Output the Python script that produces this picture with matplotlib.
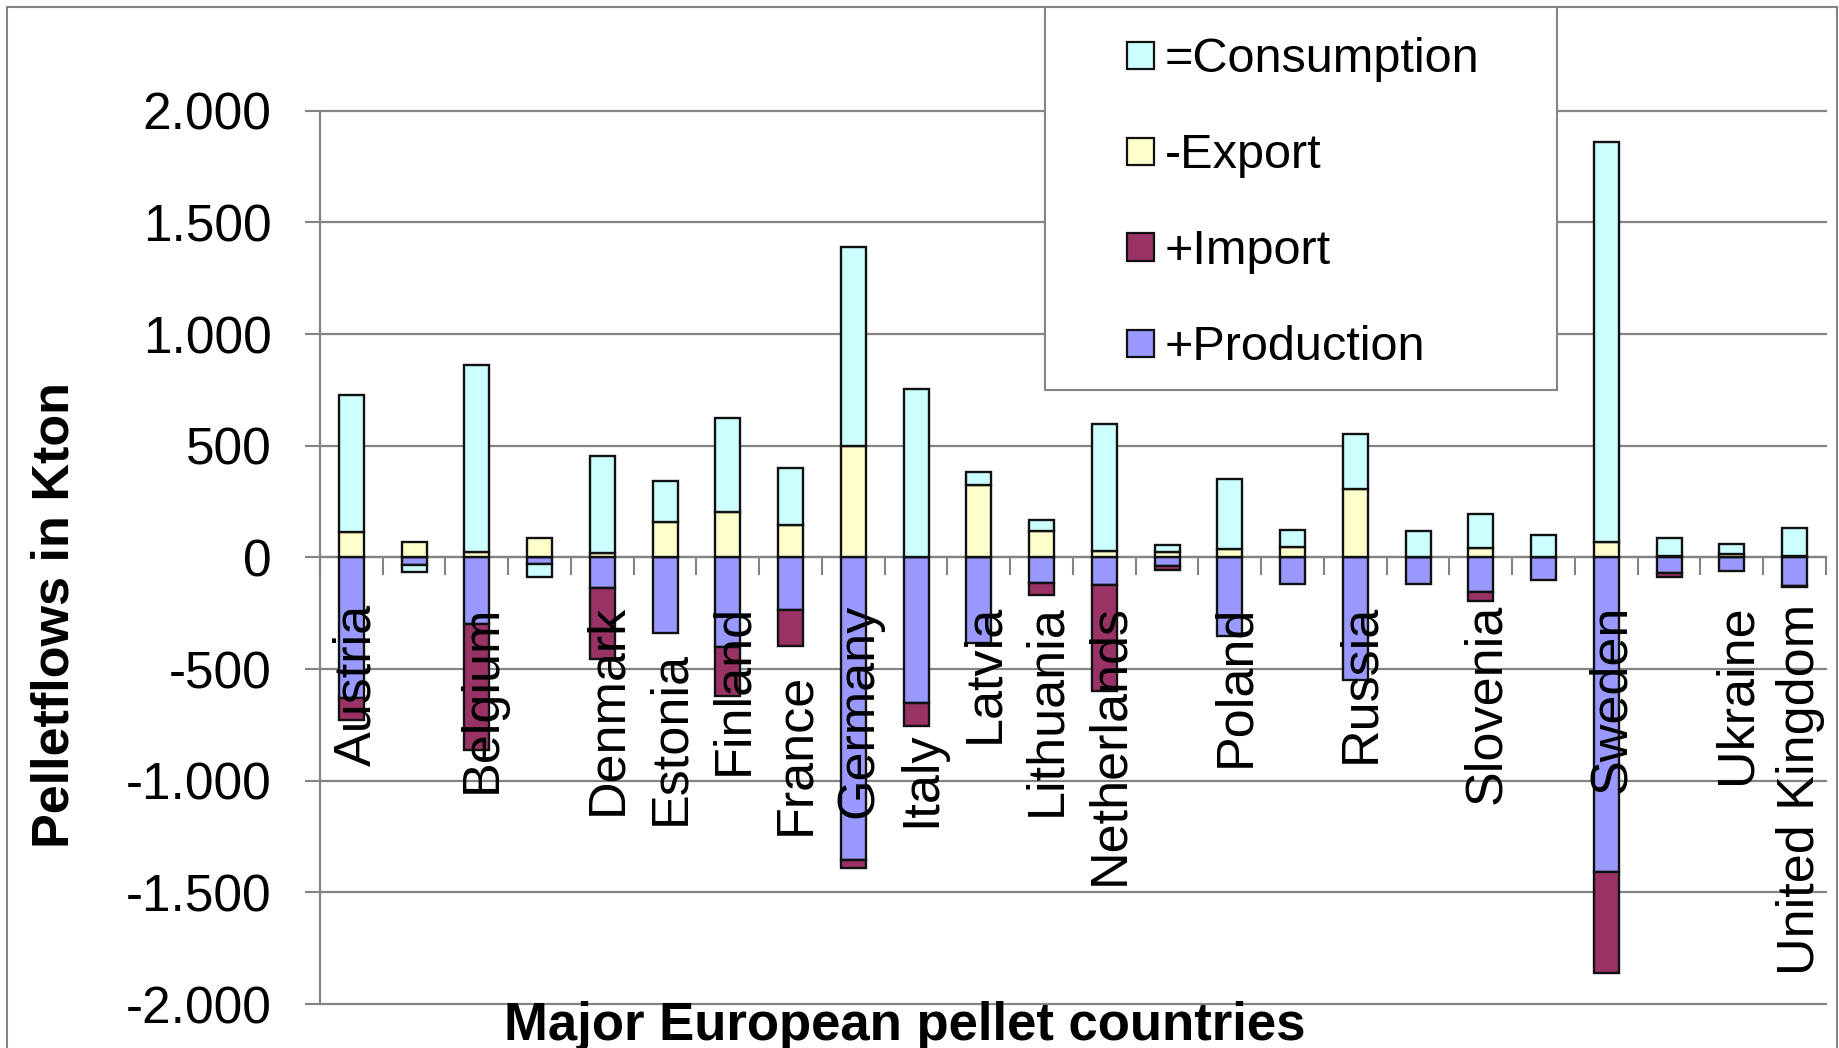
import numpy as np
import matplotlib
matplotlib.use("Agg")
import matplotlib.pyplot as plt
from matplotlib.patches import Rectangle
from matplotlib.ticker import FuncFormatter, FixedLocator

plt.rcParams['font.family'] = ['Liberation Sans', 'DejaVu Sans']

# data (Kton)
countries = ["Austria", "", "Belgium", "", "Denmark", "Estonia", "Finland", "France",
             "Germany", "Italy", "Latvia", "Lithuania", "Netherlands", "", "Poland", "",
             "Russia", "", "Slovenia", "", "Sweden", "", "Ukraine", "United Kingdom"]
production = [630, 36, 298, 28, 136, 340, 401, 237, 1357, 652, 382, 115,
              125, 38, 350, 121, 551, 119, 155, 102, 1407, 68, 62, 130]
imports = [98, 0, 564, 0, 317, 0, 222, 162, 35, 104, 0, 53,
           472, 17, 0, 0, 0, 0, 40, 0, 452, 19, 0, 3]
exports = [114, 67, 22, 87, 18, 158, 203, 144, 500, 0, 324, 116,
           30, 25, 37, 45, 308, 0, 40, 2, 70, 5, 15, 5]
consumption = [614, -31, 840, -59, 435, 182, 420, 255, 890, 756, 58, 52,
               567, 30, 313, 76, 243, 119, 155, 100, 1789, 82, 47, 128]

series_names = ["+Production", "+Import", "-Export", "=Consumption"]
series_colors = ["#9999FF", "#993366", "#FFFFCC", "#CCFFFF"]

W, H = 1840, 1048
GRAY = "#848484"

fig = plt.figure(figsize=(W / 100, H / 100), dpi=100)
ax = fig.add_axes([320 / W, 1 - 1004 / H, (1826 - 320) / W, (1004 - 110.7) / H])

x = np.arange(len(countries))
# production and import go down, export and consumption go up (Excel style stacking)
signed = [-np.array(production), -np.array(imports), np.array(exports), np.array(consumption)]
pos_base = np.zeros(len(x))
neg_base = np.zeros(len(x))
for vals, name, col in zip(signed, series_names, series_colors):
    bottom = np.where(vals >= 0, pos_base, neg_base)
    ax.bar(x, vals, width=0.4, bottom=bottom, color=col, edgecolor="#111111",
           linewidth=1.7, label=name, zorder=3)
    pos_base = pos_base + np.where(vals >= 0, vals, 0)
    neg_base = neg_base + np.where(vals < 0, vals, 0)

ax.set_xlim(-0.5, len(countries) - 0.5)
ax.set_ylim(-2000, 2000)

# category axis sits on the zero line, ticks between categories
ax.spines['bottom'].set_position(('data', 0))
ax.spines['bottom'].set_color(GRAY)
ax.spines['bottom'].set_linewidth(1.6)
ax.spines['left'].set_color(GRAY)
ax.spines['left'].set_linewidth(1.6)
ax.spines['top'].set_visible(False)
ax.spines['right'].set_visible(False)
ax.xaxis.set_major_locator(FixedLocator(np.arange(-0.5, len(countries), 1)))
ax.set_xticklabels([])
ax.tick_params(axis='x', direction='out', length=13, width=1.5, color=GRAY)

ax.set_yticks(np.arange(-2000, 2001, 500))
ax.yaxis.set_major_formatter(FuncFormatter(lambda v, p: "{:,}".format(int(v)).replace(",", ".")))
ax.tick_params(axis='y', direction='out', length=11, width=1.5, color=GRAY,
               labelsize=37, pad=24)
ax.yaxis.grid(True, color=GRAY, linewidth=1.6, zorder=0)
ax.set_axisbelow(True)
for gl in ax.get_ygridlines():
    gl.set_clip_on(False)

# rotated country names below the zero line
label_top = {"Estonia": -421, "France": -515, "Italy": -779}
for i, name in enumerate(countries):
    if not name:
        continue
    ax.text(i, label_top.get(name, -210), name, rotation=90, rotation_mode='anchor',
            ha='right', va='center_baseline', fontsize=37.5, zorder=5)

fig.text(55 / W, 1 - 614.5 / H, "Pelletflows in Kton", rotation=90, ha='center',
         va='center', fontsize=37.5, fontweight='bold')
fig.text(905 / W, 1 - 1040 / H, "Major European pellet countries", ha='center',
         va='baseline', fontsize=38, fontweight='bold')

# chart area border
fig.patches.append(Rectangle((7 / W, -0.02), (1837 - 7) / W, 1 - 7 / H + 0.02,
                             transform=fig.transFigure, fill=False,
                             edgecolor=GRAY, linewidth=1.5, zorder=0))

# legend box, drawn by hand to match the Excel layout
fig.patches.append(Rectangle((1045 / W, 1 - 390 / H), 512 / W, 383 / H,
                             transform=fig.transFigure, facecolor="white",
                             edgecolor=GRAY, linewidth=1.5, zorder=10))
legend_rows = [3, 2, 1, 0]
for row, k in enumerate(legend_rows):
    yc = 55 + row * 96
    fig.patches.append(Rectangle((1127 / W, 1 - (yc + 13.5) / H), 27 / W, 27 / H,
                                 transform=fig.transFigure, facecolor=series_colors[k],
                                 edgecolor="#111111", linewidth=1.6, zorder=11))
    fig.text(1165 / W, 1 - (yc + 17) / H, series_names[k], ha='left', va='baseline',
             fontsize=35, zorder=12)

fig.savefig("out.png", dpi=100)
